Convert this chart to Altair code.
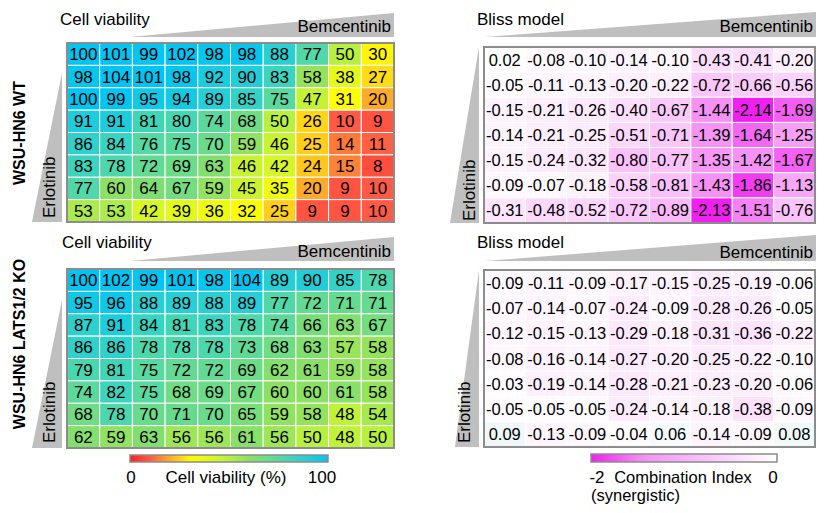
import altair as alt
import pandas as pd

FONT = "Liberation Sans"
OFF = 8  # page margin

# ---------------- data ----------------
wt_viability = [
    [100, 101, 99, 102, 98, 98, 88, 77, 50, 30],
    [98, 104, 101, 98, 92, 90, 83, 58, 38, 27],
    [100, 99, 95, 94, 89, 85, 75, 47, 31, 20],
    [91, 91, 81, 80, 74, 68, 50, 26, 10, 9],
    [86, 84, 76, 75, 70, 59, 46, 25, 14, 11],
    [83, 78, 72, 69, 63, 46, 42, 24, 15, 8],
    [77, 60, 64, 67, 59, 45, 35, 20, 9, 10],
    [53, 53, 42, 39, 36, 32, 25, 9, 9, 10],
]
ko_viability = [
    [100, 102, 99, 101, 98, 104, 89, 90, 85, 78],
    [95, 96, 88, 89, 88, 89, 77, 72, 71, 71],
    [87, 91, 84, 81, 83, 78, 74, 66, 63, 67],
    [86, 86, 78, 78, 78, 73, 68, 63, 57, 58],
    [79, 81, 75, 72, 72, 69, 62, 61, 59, 58],
    [74, 82, 75, 68, 69, 67, 60, 60, 61, 58],
    [68, 78, 70, 71, 70, 65, 59, 58, 48, 54],
    [62, 59, 63, 56, 56, 61, 56, 50, 48, 50],
]
wt_bliss = [
    [0.02, -0.08, -0.10, -0.14, -0.10, -0.43, -0.41, -0.20],
    [-0.05, -0.11, -0.13, -0.20, -0.22, -0.72, -0.66, -0.56],
    [-0.15, -0.21, -0.26, -0.40, -0.67, -1.44, -2.14, -1.69],
    [-0.14, -0.21, -0.25, -0.51, -0.71, -1.39, -1.64, -1.25],
    [-0.15, -0.24, -0.32, -0.80, -0.77, -1.35, -1.42, -1.67],
    [-0.09, -0.07, -0.18, -0.58, -0.81, -1.43, -1.86, -1.13],
    [-0.31, -0.48, -0.52, -0.72, -0.89, -2.13, -1.51, -0.76],
]
ko_bliss = [
    [-0.09, -0.11, -0.09, -0.17, -0.15, -0.25, -0.19, -0.06],
    [-0.07, -0.14, -0.07, -0.24, -0.09, -0.28, -0.26, -0.05],
    [-0.12, -0.15, -0.13, -0.29, -0.18, -0.31, -0.36, -0.22],
    [-0.08, -0.16, -0.14, -0.27, -0.20, -0.25, -0.22, -0.10],
    [-0.03, -0.19, -0.14, -0.28, -0.21, -0.23, -0.20, -0.06],
    [-0.05, -0.05, -0.05, -0.24, -0.14, -0.18, -0.38, -0.09],
    [0.09, -0.13, -0.09, -0.04, 0.06, -0.14, -0.09, 0.08],
]

viab_stops = [0, 10, 20, 27, 31, 50, 60, 77, 88, 100]
viab_colors = ["#ff1e1e", "#ff5a46", "#ffaa28", "#ffdc14", "#ffff00",
               "#b8f040", "#8ce064", "#50d8a8", "#28d0d2", "#00c4f4"]
bliss_stops_wt = [-2, -1.44, -0.72, 0]
bliss_colors_wt = ["#f020f0", "#f590f5", "#fbc6fb", "#ffffff"]
bliss_stops_ko = [-2, -1.44, -0.72, 0, 0.2]
bliss_colors_ko = ["#f020f0", "#f590f5", "#fbc6fb", "#ffffff", "#ddf0f6"]


def to_long(mat, fmt):
    rows = []
    for r, row in enumerate(mat):
        for c, v in enumerate(row):
            rows.append({"r": r, "c": c, "v": v, "label": fmt(v)})
    return pd.DataFrame(rows)


def P(v):
    return v - OFF


def heatmap(df, x0, x1, y0, y1, scale, legend, fontsize):
    base = alt.Chart(df).encode(
        x=alt.X("c:O", axis=None, scale=alt.Scale(range=[P(x0), P(x1)], paddingInner=0, paddingOuter=0)),
        y=alt.Y("r:O", axis=None, scale=alt.Scale(range=[P(y0), P(y1)], paddingInner=0, paddingOuter=0)),
    )
    rect = base.mark_rect(stroke="white", strokeWidth=1).encode(
        color=alt.Color("v:Q", scale=scale, legend=legend)
    )
    text = base.mark_text(font=FONT, fontSize=fontsize, color="black",
                          baseline="middle", dy=1).encode(text="label:N")
    return alt.layer(rect, text)


one = pd.DataFrame({"a": [0]})


def border(x0, x1, y0, y1):
    return alt.Chart(one).mark_rect(fillOpacity=0, stroke="#8c8c8c", strokeWidth=2).encode(
        x=alt.value(P(x0)), x2=alt.value(P(x1)), y=alt.value(P(y0)), y2=alt.value(P(y1))
    )


def triangle(pts, color="#bfbfbf"):
    xs = [p[0] for p in pts]
    ys = [p[1] for p in pts]
    cx = (min(xs) + max(xs)) / 2
    cy = (min(ys) + max(ys)) / 2
    half = max(max(xs) - min(xs), max(ys) - min(ys)) / 2
    path = "M" + " L".join(f"{(x - cx) / half:.4f},{(y - cy) / half:.4f}" for x, y in pts) + " Z"
    return alt.Chart(one).mark_point(shape=path, size=(2 * half) ** 2, filled=True,
                                     color=color, opacity=1, strokeWidth=0).encode(
        x=alt.value(P(cx)), y=alt.value(P(cy))
    )


def label(txt, x, y, align="left", angle=0, size=17, weight="normal"):
    return alt.Chart(one).mark_text(text=txt, align=align, baseline="middle", angle=angle,
                                    fontSize=size, fontWeight=weight, font=FONT,
                                    color="black").encode(x=alt.value(P(x)), y=alt.value(P(y)))


viab_legend = alt.Legend(orient="none", legendX=P(130), legendY=P(455), direction="horizontal",
                         gradientLength=198, gradientThickness=7, labelExpr="''", title=None,
                         gradientStrokeColor="#8c8c8c", gradientStrokeWidth=1.5)
bliss_legend = alt.Legend(orient="none", legendX=P(591), legendY=P(454), direction="horizontal",
                          gradientLength=186, gradientThickness=8, labelExpr="''", title=None,
                          gradientStrokeColor="#8c8c8c", gradientStrokeWidth=1.5)

viab_scale = alt.Scale(domain=viab_stops, range=viab_colors, clamp=True, interpolate="rgb")
viab_scale2 = alt.Scale(domain=viab_stops, range=viab_colors, clamp=True, interpolate="rgb")
bliss_scale_wt = alt.Scale(domain=bliss_stops_wt, range=bliss_colors_wt, clamp=True, interpolate="rgb")
bliss_scale_ko = alt.Scale(domain=bliss_stops_ko, range=bliss_colors_ko, clamp=True, interpolate="rgb")

int_fmt = lambda v: f"{v:d}"
dec_fmt = lambda v: f"{v:.2f}"

BX0, BX1 = 484, 815  # bliss panel horizontal extent (page px)

layers = [
    # wedges
    triangle([(130, 37), (394, 13), (394, 37)]),
    triangle([(130, 261), (394, 237), (394, 261)]),
    triangle([(485, 37), (816, 12), (816, 37)]),
    triangle([(485, 261), (816, 235), (816, 261)]),
    triangle([(62, 73), (32, 222), (62, 222)]),
    triangle([(62, 300), (32, 448), (62, 448)]),
    triangle([(479, 47), (450, 223), (479, 223)]),
    triangle([(479, 270), (455, 447), (479, 447)]),
    # heatmaps
    heatmap(to_long(wt_viability, int_fmt), 67, 394, 43, 222, viab_scale, viab_legend, 17),
    heatmap(to_long(ko_viability, int_fmt), 67, 394, 269, 448, viab_scale2, None, 17),
    heatmap(to_long(wt_bliss, dec_fmt), BX0, BX1, 47, 223, bliss_scale_wt, bliss_legend, 16.5),
    heatmap(to_long(ko_bliss, dec_fmt), BX0, BX1, 270, 447, bliss_scale_ko, None, 16.5),
    border(67, 394, 43, 222),
    border(67, 394, 269, 448),
    border(BX0, BX1, 47, 223),
    border(BX0, BX1, 270, 447),
    # titles
    label("Cell viability", 60, 20),
    label("Cell viability", 62, 243),
    label("Bliss model", 477, 20),
    label("Bliss model", 477, 243),
    label("Bemcentinib", 391, 27, align="right"),
    label("Bemcentinib", 391, 252, align="right"),
    label("Bemcentinib", 813, 27, align="right"),
    label("Bemcentinib", 813, 253, align="right"),
    label("Erlotinib", 50, 218, angle=270),
    label("Erlotinib", 50, 443, angle=270),
    label("Erlotinib", 470, 221, angle=270),
    label("Erlotinib", 465, 443, angle=270),
    label("WSU-HN6 WT", 20, 133, align="center", angle=270, size=16, weight="bold"),
    label("WSU-HN6 LATS1/2 KO", 20, 344, align="center", angle=270, size=16, weight="bold"),
    # colorbar labels
    label("0", 131, 478, align="center"),
    label("Cell viability (%)", 226, 478, align="center"),
    label("100", 322, 478, align="center"),
    label("-2", 597, 478, align="center"),
    label("Combination Index", 683, 478, align="center", size=16.5),
    label("0", 773, 478, align="center"),
    label("(synergistic)", 591, 496, align="left", size=16.5),
]

chart = alt.layer(*layers).resolve_scale(
    x="independent", y="independent", color="independent"
).properties(
    width=808, height=497, padding=0,
    autosize=alt.AutoSizeParams(type="none"),
).configure_view(stroke=None)

chart.save("out.html", embed_options={"renderer": "svg", "actions": False})
